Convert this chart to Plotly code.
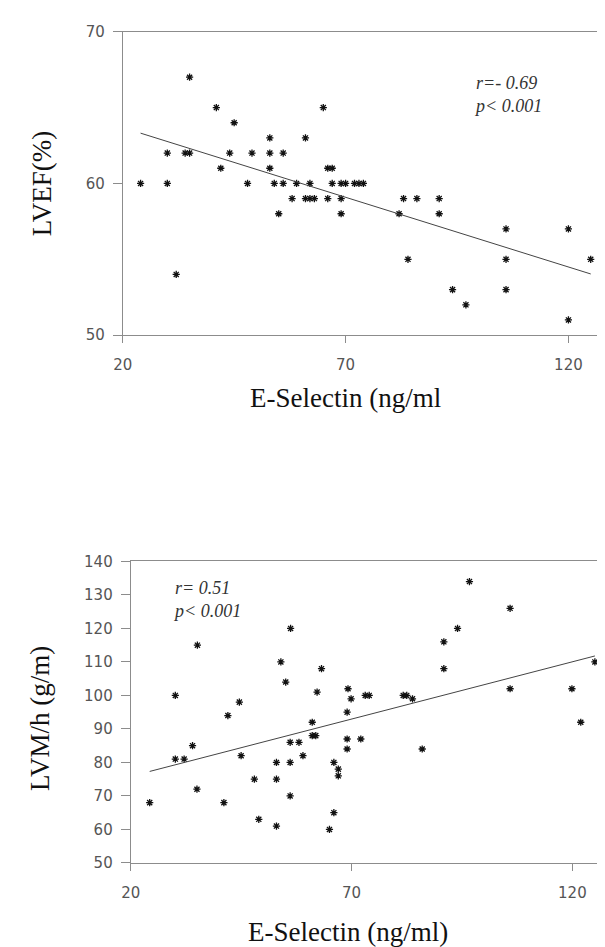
import numpy as np
import plotly.graph_objects as go

# ---------------- data ----------------
# Top panel: E-Selectin (ng/ml) vs LVEF (%)
lvef_x = [35,
          41, 65,
          45,
          53, 61,
          30, 34, 35, 44, 49, 53, 56,
          42, 53, 66, 67,
          24, 30, 48, 54, 56, 59, 62, 67, 69, 70, 72, 73, 74,
          58, 61, 62, 63, 66, 69, 83, 86, 91,
          55, 69, 82, 91,
          106, 120,
          84, 106, 125,
          32,
          94, 106,
          97,
          120]
lvef_y = [67,
          65, 65,
          64,
          63, 63,
          62, 62, 62, 62, 62, 62, 62,
          61, 61, 61, 61,
          60, 60, 60, 60, 60, 60, 60, 60, 60, 60, 60, 60, 60,
          59, 59, 59, 59, 59, 59, 59, 59, 59,
          58, 58, 58, 58,
          57, 57,
          55, 55, 55,
          54,
          53, 53,
          52,
          51]
lvef_fit = [65.52, -0.0919]          # intercept, slope of drawn regression line
lvef_stats = ["r=- 0.69", "p< 0.001"]

# Bottom panel: E-Selectin (ng/ml) vs LVM/h (g/m)
lvm_x = [96.7, 105.9, 56.2, 94.0, 90.9, 35.1, 54.0, 125.1, 63.2, 90.9,
         55.1, 69.2, 105.9, 119.9, 62.2, 30.1, 73.1, 74.0, 81.7, 82.5,
         69.9, 83.8, 44.6, 42.0, 69.0, 121.9, 61.1, 61.1, 61.9, 34.0,
         56.1, 58.1, 69.0, 72.1, 69.0, 86.0, 45.0, 59.0, 30.1, 32.1,
         53.0, 56.1, 66.0, 67.0, 67.0, 53.0, 48.0, 35.0, 56.1, 24.3,
         41.1, 66.0, 49.0, 53.0, 65.0]
lvm_y = [134, 126, 120, 120, 116, 115, 110, 110, 108, 108,
         104, 102, 102, 102, 101, 100, 100, 100, 100, 100,
         99, 99, 98, 94, 95, 92, 92, 88, 88, 85,
         86, 86, 87, 87, 84, 84, 82, 82, 81, 81,
         80, 80, 80, 78, 76, 75, 75, 72, 70, 68,
         68, 65, 63, 61, 60]
lvm_fit = [69.0, 0.342]
lvm_stats = ["r= 0.51", "p< 0.001"]

x_ticks = [20, 70, 120]
lvef_ticks = [50, 60, 70]
lvm_ticks = [50, 60, 70, 80, 90, 100, 110, 120, 130, 140]

x_title_top = "E-Selectin (ng/ml"
x_title_bottom = "E-Selectin (ng/ml)"
y_title_top = "LVEF(%)"
y_title_bottom = "LVM/h (g/m)"

# ---------------- figure ----------------
W, H = 605, 947
def px_x(p):
    return p / W
def px_y(p):
    return 1 - p / H

fig = go.Figure()

marker = dict(symbol="asterisk", size=6, color="#111111",
              line=dict(width=1.3, color="#111111"))

fig.add_trace(go.Scatter(x=lvef_x, y=lvef_y, mode="markers", marker=marker,
                         xaxis="x", yaxis="y", showlegend=False))
fx = np.array([min(lvef_x), max(lvef_x)], dtype=float)
fig.add_trace(go.Scatter(x=fx, y=lvef_fit[0] + lvef_fit[1] * fx, mode="lines",
                         line=dict(color="#444444", width=1),
                         xaxis="x", yaxis="y", showlegend=False))

fig.add_trace(go.Scatter(x=lvm_x, y=lvm_y, mode="markers", marker=marker,
                         xaxis="x2", yaxis="y2", showlegend=False))
fx2 = np.array([min(lvm_x), max(lvm_x)], dtype=float)
fig.add_trace(go.Scatter(x=fx2, y=lvm_fit[0] + lvm_fit[1] * fx2, mode="lines",
                         line=dict(color="#444444", width=1),
                         xaxis="x2", yaxis="y2", showlegend=False))

axis_col = "#8c8c8c"
tick_font = dict(family="DejaVu Sans", size=15, color="#555555")

common_x = dict(showgrid=False, zeroline=False, showline=True, linecolor=axis_col,
                linewidth=1, mirror=True, ticks="outside", ticklen=7,
                tickcolor=axis_col, tickvals=x_ticks, tickfont=tick_font,
                ticklabelstandoff=9)
common_y = dict(showgrid=False, zeroline=False, showline=True, linecolor=axis_col,
                linewidth=1, ticks="outside", ticklen=9, tickcolor=axis_col,
                tickfont=tick_font, ticklabelstandoff=5)

fig.update_layout(
    width=W, height=H,
    margin=dict(l=0, r=0, t=0, b=0),
    paper_bgcolor="white", plot_bgcolor="white",
    xaxis=dict(common_x, range=[20, 130], domain=[px_x(106.5), 1], anchor="y"),
    yaxis=dict(common_y, range=[50, 70], tickvals=lvef_ticks,
               domain=[px_y(324.3), px_y(15)], anchor="x"),
    xaxis2=dict(common_x, range=[20, 129.2], domain=[px_x(114.6), 1], anchor="y2"),
    yaxis2=dict(common_y, range=[50, 140], tickvals=lvm_ticks,
                domain=[px_y(862.3), px_y(555)], anchor="x2"),
)

serif = "Liberation Serif"
title_font = dict(family=serif, size=27, color="#111111")
ann = []
# axis titles
ann.append(dict(text=x_title_top, x=px_x(333), y=px_y(388), xref="paper", yref="paper",
                showarrow=False, xanchor="center", yanchor="middle", font=title_font))
ann.append(dict(text=x_title_bottom, x=px_x(336), y=px_y(933), xref="paper", yref="paper",
                showarrow=False, xanchor="center", yanchor="middle", font=title_font))
ann.append(dict(text=y_title_top, x=px_x(24), y=px_y(170), xref="paper", yref="paper",
                showarrow=False, xanchor="center", yanchor="middle", textangle=-90,
                font=title_font))
ann.append(dict(text=y_title_bottom, x=px_x(23), y=px_y(715), xref="paper", yref="paper",
                showarrow=False, xanchor="center", yanchor="middle", textangle=-90,
                font=title_font))
# statistics
stat_font = dict(family=serif, size=18, color="#333333", style="italic")
ann.append(dict(text="<br>".join(lvef_stats), x=px_x(462), y=px_y(79), xref="paper",
                yref="paper", showarrow=False, xanchor="left", yanchor="middle",
                align="left", font=stat_font))
ann.append(dict(text="<br>".join(lvm_stats), x=px_x(156), y=px_y(594), xref="paper",
                yref="paper", showarrow=False, xanchor="left", yanchor="middle",
                align="left", font=stat_font))
fig.update_layout(annotations=ann)

fig.write_html("out.html")
